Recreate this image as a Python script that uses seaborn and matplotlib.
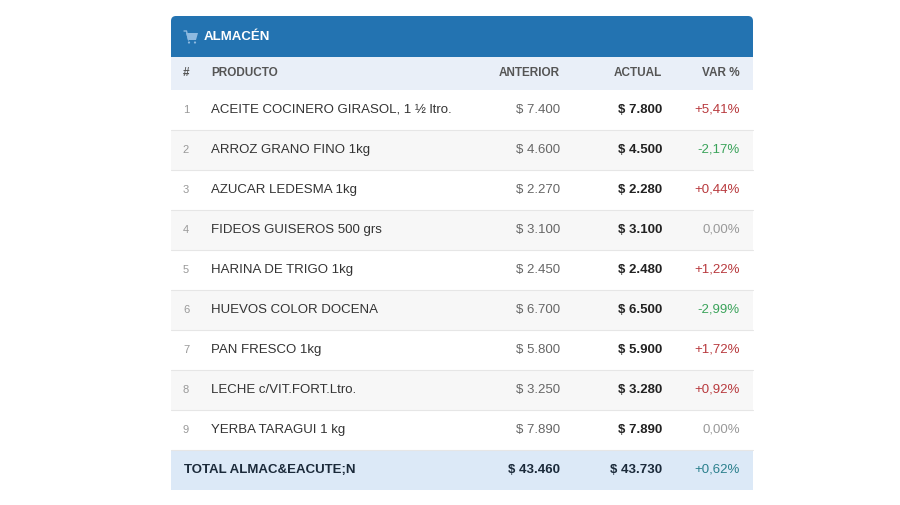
import matplotlib
matplotlib.use("Agg")
import matplotlib.pyplot as plt
import seaborn as sns
from matplotlib.patches import FancyBboxPatch, Rectangle, Polygon, Circle

sns.set_theme(style="white")
plt.rcParams['font.family'] = ['Liberation Sans', 'DejaVu Sans']

productos = ["ACEITE COCINERO GIRASOL, 1 ½ ltro.", "ARROZ GRANO FINO 1kg", "AZUCAR LEDESMA 1kg",
             "FIDEOS GUISEROS 500 grs", "HARINA DE TRIGO 1kg", "HUEVOS COLOR DOCENA",
             "PAN FRESCO 1kg", "LECHE c/VIT.FORT.Ltro.", "YERBA TARAGUI 1 kg"]
anterior = ["$ 7.400", "$ 4.600", "$ 2.270", "$ 3.100", "$ 2.450", "$ 6.700", "$ 5.800", "$ 3.250", "$ 7.890"]
actual = ["$ 7.800", "$ 4.500", "$ 2.280", "$ 3.100", "$ 2.480", "$ 6.500", "$ 5.900", "$ 3.280", "$ 7.890"]
var = ["+5,41%", "-2,17%", "+0,44%", "0,00%", "+1,22%", "-2,99%", "+1,72%", "+0,92%", "0,00%"]
total = ["TOTAL ALMAC&EACUTE;N", "$ 43.460", "$ 43.730", "+0,62%"]

fig = plt.figure(figsize=(9, 5.05), dpi=100)
ax = fig.add_axes([0, 0, 1, 1])
ax.set_xlim(0, 900)
ax.set_ylim(505, 0)
ax.axis("off")

x0, x1 = 171, 753
# title bar
ax.add_patch(FancyBboxPatch((x0, 16), x1 - x0, 41, boxstyle="round,pad=0,rounding_size=5",
                            fc="#2373b1", ec="none"))
ax.add_patch(Rectangle((x0, 45), x1 - x0, 12, fc="#2373b1", ec="none"))
# small cart icon (no installed font has the emoji)
cart = "#8db9e0"
ax.add_patch(Polygon([(186, 33), (198, 33), (196, 40), (188, 40)], closed=True, fc=cart, ec="none"))
ax.plot([184, 186.5, 188.5], [31, 31, 40], color=cart, lw=1)
ax.add_patch(Circle((189, 42.5), 1.1, fc=cart, ec="none"))
ax.add_patch(Circle((195, 42.5), 1.1, fc=cart, ec="none"))
ax.text(204, 37, "ALMACÉN", color="white", fontsize=9.5, fontweight="bold", va="center")

# column header
ax.add_patch(Rectangle((x0, 57), x1 - x0, 33, fc="#e9eff8", ec="none"))
hc = "#555555"
ax.text(186, 73.5, "#", color=hc, fontsize=8.5, fontweight="bold", va="center", ha="center")
ax.text(211, 73.5, "PRODUCTO", color=hc, fontsize=8.5, fontweight="bold", va="center")
ax.text(560, 73.5, "ANTERIOR", color=hc, fontsize=8.5, fontweight="bold", va="center", ha="right")
ax.text(662, 73.5, "ACTUAL", color=hc, fontsize=8.5, fontweight="bold", va="center", ha="right")
ax.text(740, 73.5, "VAR %", color=hc, fontsize=8.5, fontweight="bold", va="center", ha="right")

for i, p in enumerate(productos):
    top = 90 + 40 * i
    ax.add_patch(Rectangle((x0, top), x1 - x0, 40, fc="white" if i % 2 == 0 else "#f7f7f7", ec="none"))
    ax.plot([x0, x1], [top + 40, top + 40], color="#e6e6e6", lw=0.8)
    yc = top + 20
    ax.text(186, yc, str(i + 1), color="#999999", fontsize=8, va="center", ha="center")
    ax.text(211, yc, p, color="#333333", fontsize=9.5, va="center")
    ax.text(560, yc, anterior[i], color="#666666", fontsize=9.5, va="center", ha="right")
    ax.text(662, yc, actual[i], color="#222222", fontsize=9.5, fontweight="bold", va="center", ha="right")
    v = var[i]
    col = "#b8393d" if v.startswith("+") else ("#3aa35a" if v.startswith("-") else "#999999")
    ax.text(740, yc, v, color=col, fontsize=9.5, va="center", ha="right")

ax.add_patch(Rectangle((x0, 450), x1 - x0, 40, fc="#dce9f7", ec="none"))
ax.text(184, 470, total[0], color="#1b2a3a", fontsize=9.5, fontweight="bold", va="center")
ax.text(560, 470, total[1], color="#1b2a3a", fontsize=9.5, fontweight="bold", va="center", ha="right")
ax.text(662, 470, total[2], color="#1b2a3a", fontsize=9.5, fontweight="bold", va="center", ha="right")
ax.text(740, 470, total[3], color="#2a7f8c", fontsize=9.5, va="center", ha="right")

fig.savefig("out.png", dpi=100, facecolor="white")
